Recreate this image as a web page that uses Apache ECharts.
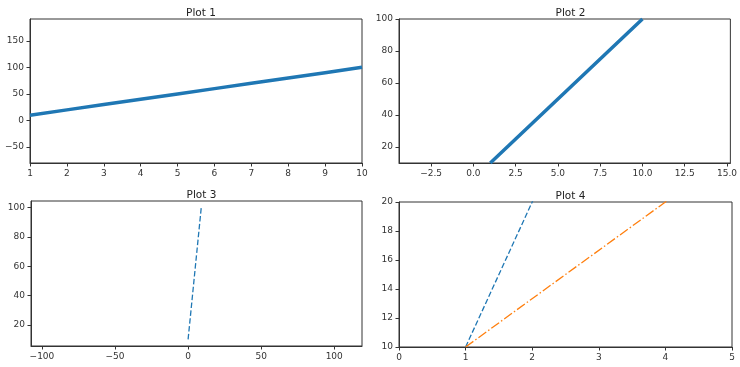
<!DOCTYPE html>
<html><head><meta charset="utf-8">
<script src="https://cdn.jsdelivr.net/npm/echarts@6/dist/echarts.min.js"></script>
<style>html,body{margin:0;padding:0;background:#fff}#c{width:740px;height:367px}</style>
</head><body><div id="c"></div>
<script>
// ---- data ----
var titles = ['Plot 1', 'Plot 2', 'Plot 3', 'Plot 4'];
var xA = [1, 2, 3, 4, 5, 6, 7, 8, 9, 10];
var yA = [10, 20, 30, 40, 50, 60, 70, 80, 90, 100];
var x3 = [0, 1, 2, 3, 4, 5, 6, 7, 8, 9];
var y3 = [10, 20, 30, 40, 50, 60, 70, 80, 90, 100];
var x4b = [1, 4, 7, 10];
var y4b = [10, 20, 30, 40];
// tick labels
var xt1 = [1, 2, 3, 4, 5, 6, 7, 8, 9, 10];
var yt1 = [-50, 0, 50, 100, 150];
var xt2 = [-2.5, 0, 2.5, 5, 7.5, 10, 12.5, 15];
var yt2 = [20, 40, 60, 80, 100];
var xt3 = [-100, -50, 0, 50, 100];
var yt3 = [20, 40, 60, 80, 100];
var xt4 = [0, 1, 2, 3, 4, 5];
var yt4 = [10, 12, 14, 16, 18, 20];
// axis ranges
var xr = [[1, 10], [-4.4, 15.2], [-107.5, 119], [0, 5]];
var yr = [[-80, 191], [10, 100], [5.5, 104.5], [10, 20]];

function zip(a, b) { return a.map(function (v, i) { return [v, b[i]]; }); }
var blue = '#1f77b4', orange = '#ff7f0e';
var grids = [
  {left: 30, top: 19, width: 332, height: 144},
  {left: 399, top: 19, width: 333, height: 144},
  {left: 31, top: 201, width: 331, height: 145},
  {left: 399, top: 202, width: 333, height: 145}
];
var font = 'DejaVu Sans';
function fmt(dec) {
  return function (v) { var s = dec ? v.toFixed(1) : String(Math.round(v)); return s.replace('-', '\u2212'); };
}
function axis(type, i, ticks, dec) {
  return {
    type: 'value', gridIndex: i, min: (type === 'x' ? xr : yr)[i][0], max: (type === 'x' ? xr : yr)[i][1],
    position: type === 'x' ? 'bottom' : 'left',
    axisLine: {show: true, onZero: false, lineStyle: {color: '#333', width: 1}},
    axisTick: {show: true, length: 3.5, inside: false, customValues: ticks, lineStyle: {color: '#333'}},
    axisLabel: {customValues: ticks, formatter: fmt(dec), fontFamily: font, fontSize: 9, color: '#333',
      margin: type === 'x' ? 6 : 6, showMinLabel: true, showMaxLabel: true, hideOverlap: false},
    splitLine: {show: false}
  };
}
var xt = [xt1, xt2, xt3, xt4], yt = [yt1, yt2, yt3, yt4];
var xAxes = [], yAxes = [];
for (var i = 0; i < 4; i++) {
  xAxes.push(axis('x', i, xt[i], i === 1));
  yAxes.push(axis('y', i, yt[i], false));
}
var gridOpts = grids.map(function (g) {
  return Object.assign({show: true, borderColor: '#333', borderWidth: 1, backgroundColor: '#fff', containLabel: false}, g);
});
var titleOpts = grids.map(function (g, i) {
  return {text: titles[i], left: g.left + g.width / 2, top: g.top - 16, textAlign: 'center',
    textStyle: {fontFamily: font, fontSize: 10.5, fontWeight: 'normal', color: '#222'}};
});
function ser(i, data, color, width, type) {
  return {type: 'line', xAxisIndex: i, yAxisIndex: i, data: data, showSymbol: false, symbol: 'none',
    clip: true, animation: false, lineStyle: {color: color, width: width, type: type}};
}
var dashed = [5.5, 2.4], dashdot = [9.6, 2.4, 1.5, 2.4];
var option = {
  animation: false,
  title: titleOpts,
  grid: gridOpts,
  xAxis: xAxes,
  yAxis: yAxes,
  series: [
    ser(0, zip(xA, yA), blue, 3.5, 'solid'),
    ser(1, zip(xA, yA), blue, 3.5, 'solid'),
    ser(2, zip(x3, y3), blue, 1.3, dashed),
    ser(3, zip(xA, yA), blue, 1.3, dashed),
    ser(3, zip(x4b, y4b), orange, 1.3, dashdot)
  ]
};
var chart = echarts.init(document.getElementById('c'), null, {renderer: 'canvas'});
chart.setOption(option);
</script></body></html>
